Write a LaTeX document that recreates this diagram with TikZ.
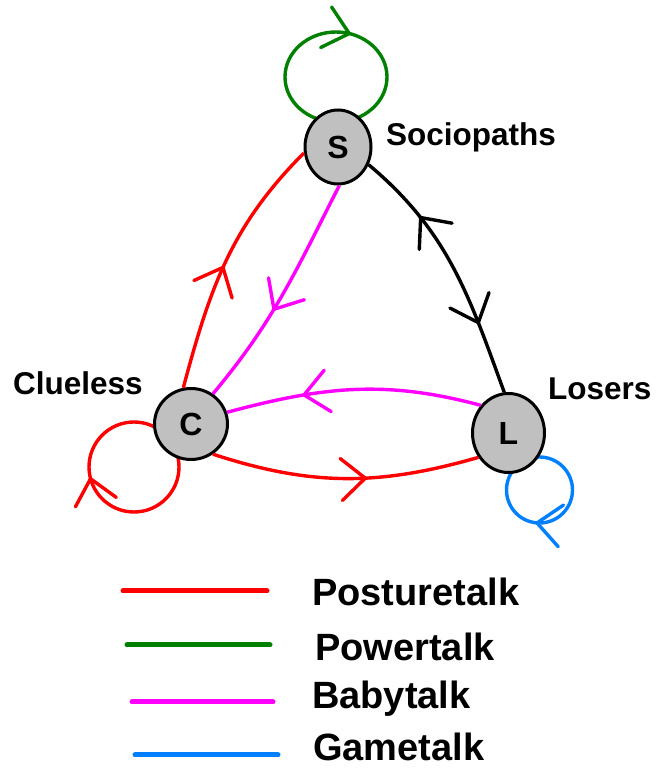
\documentclass[tikz,border=0pt]{standalone}
\usepackage{fontspec}
\setmainfont{Liberation Sans}
\usetikzlibrary{arrows.meta,decorations.markings,shapes.geometric,backgrounds}

\definecolor{posture}{RGB}{255,0,0}
\definecolor{power}{RGB}{0,128,0}
\definecolor{baby}{RGB}{255,0,255}
\definecolor{game}{RGB}{0,128,255}
\definecolor{nodegray}{RGB}{192,192,192}

\begin{document}
\begin{tikzpicture}[x=1pt,y=1pt,
  talktip/.tip={Straight Barb[length=24pt,width=42pt,round]},
  member/.style={ellipse,draw,line width=3pt,fill=nodegray,inner sep=0pt,font=\fontsize{32}{32}\selectfont\bfseries},
  group/.style={anchor=base west,inner sep=0pt,font=\fontsize{31.5}{32}\selectfont\bfseries},
  legend/.style={anchor=base west,inner sep=0pt,font=\fontsize{38}{40}\selectfont\bfseries},
  talk/.style={line width=3.4pt,line join=round},
  fwd/.style={postaction={decorate},decoration={markings,mark=at position #1 with {\arrow{talktip}}}},
  bwd/.style={postaction={decorate},decoration={markings,mark=at position #1 with {\arrowreversed{talktip}}}}]
 \useasboundingbox (0,0) rectangle (657,769);
 \node[member,minimum width=66pt,minimum height=74pt] (S) at (338,622) {S};
 \node[member,minimum width=73pt,minimum height=71pt] (C) at (191,345) {C};
 \node[member,minimum width=72pt,minimum height=79pt] (L) at (508.5,336) {L};
 \node[group] (socio) at (386,623) {Sociopaths};
 \node[group] (clue) at (13,374) {Clueless};
 \node[group] (lose) at (548,369) {Losers};
 \begin{scope}[on background layer]
  \draw[talk,power,bwd=0.2] ([shift={(-2,70)}]S.center) ellipse[x radius=51pt,y radius=45pt];
  \draw[talk,posture,bwd=0.536] ([shift={(-57,-43)}]C.center) circle[radius=45pt];
  \draw[talk,game,bwd=0.73] ([shift={(31,-57)}]L.center) circle[radius=33pt];
 \end{scope}
 \draw[talk,posture,fwd=0.48] (C.102) to[out=75,in=225] (S.190);
 \draw[talk,baby,fwd=0.58] (S.272) to[out=243,in=50] (C.54);
 \draw[talk,black,postaction={decorate},decoration={markings,
   mark=at position 0.27 with {\arrowreversed{talktip}},
   mark=at position 0.73 with {\arrow{talktip}}}] (S.330) to[out=-40,in=110] (L.96);
 \draw[talk,baby,fwd=0.7] (L.135) to[out=165,in=15] (C.18);
 \draw[talk,posture,fwd=0.58] (C.306) to[out=-18,in=196] (L.219);
 \foreach \col/\name/\xa/\xb/\y/\tx/\ty in {posture/Posturetalk/123/267/178/312/163,
   power/Powertalk/127/270/124/315/108, baby/Babytalk/132/273/67/312/60, game/Gametalk/135/278/14/313/9}
 {
  \draw[\col,line width=5pt,line cap=round] (\xa,\y) -- (\xb,\y);
  \node[legend] (\name) at (\tx,\ty) {\name};
 }
\end{tikzpicture}
\end{document}
